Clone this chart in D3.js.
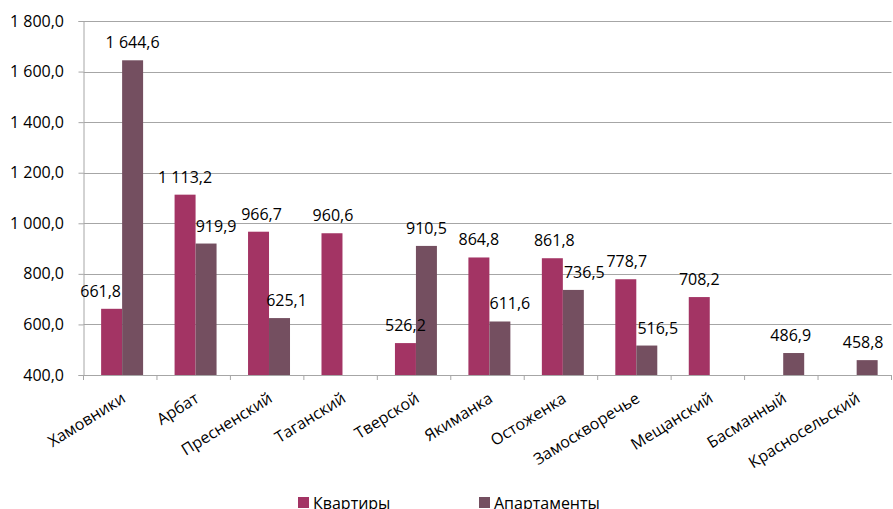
<!DOCTYPE html>
<html>
<head>
<meta charset="utf-8">
<script src="https://cdn.jsdelivr.net/npm/d3@7"></script>
<style>
  body { margin: 0; background: #fff; }
  svg text { font-family: "Open Sans", sans-serif; fill: #000; }
</style>
</head>
<body>
<svg id="chart" width="893" height="509"></svg>
<script>
const districts = ["Хамовники", "Арбат", "Пресненский", "Таганский", "Тверской", "Якиманка",
  "Остоженка", "Замоскворечье", "Мещанский", "Басманный", "Красносельский"];
const flats = [661.8, 1113.2, 966.7, 960.6, 526.2, 864.8, 861.8, 778.7, 708.2, null, null];
const apartments = [1644.6, 919.9, 625.1, null, 910.5, 611.6, 736.5, 516.5, null, 486.9, 458.8];
const seriesNames = ["Квартиры", "Апартаменты"];
const yTicks = [400, 600, 800, 1000, 1200, 1400, 1600, 1800];

// small horizontal nudges of value labels so they don't collide (as in the original)
const flatsLabelNudge = [-11, 0, 3, 1, 0, 0, 2, 1, 0, 0, 0];
const apartLabelNudge = [0, 10, 7, 0, 0, 10, 11, 11, 0, -3, -4];

const colors = ["#a33464", "#744f60"];
const plotLeft = 83.5, plotRight = 891.5, plotTop = 21, plotBottom = 375;
const FONT = 16;

const ru = d3.formatLocale({decimal: ",", thousands: " ", grouping: [3], currency: ["", ""]});
const fmt = ru.format(",.1f");

const svg = d3.select("#chart");

const x = d3.scaleBand().domain(districts).range([plotLeft, plotRight]);
const x1 = d3.scaleBand().domain(seriesNames).range([0, x.bandwidth()])
  .paddingOuter(0.75).align(0.56);
const y = d3.scaleLinear().domain([400, 1800]).range([plotBottom, plotTop]);

// grid
svg.append("g").selectAll("line").data(yTicks).join("line")
  .attr("x1", plotLeft).attr("x2", plotRight)
  .attr("y1", d => Math.round(y(d)) + 0.5).attr("y2", d => Math.round(y(d)) + 0.5)
  .attr("stroke", "#a6a6a6").attr("stroke-width", 1);

// y axis
const yAxis = svg.append("g").attr("transform", `translate(${plotLeft},0)`)
  .call(d3.axisLeft(y).tickValues(yTicks).tickFormat(fmt).tickSize(5).tickPadding(14.5));
yAxis.select(".domain").attr("stroke", "#a6a6a6");
yAxis.selectAll(".tick line").attr("stroke", "#a6a6a6");
yAxis.selectAll("text").attr("font-size", FONT).attr("font-family", "Open Sans");

// x axis
const xAxis = svg.append("g").attr("transform", `translate(0,${plotBottom})`);
xAxis.append("line").attr("x1", plotLeft).attr("x2", plotRight).attr("y1", 0.5).attr("y2", 0.5)
  .attr("stroke", "#a6a6a6");
const bounds = districts.map(d => x(d)).concat([plotRight]);
xAxis.selectAll("line.tk").data(bounds).join("line").attr("class", "tk")
  .attr("x1", d => d).attr("x2", d => d).attr("y1", 0).attr("y2", 5)
  .attr("stroke", "#a6a6a6");
xAxis.selectAll("text").data(districts).join("text")
  .attr("transform", d => `translate(${x(d) + x.bandwidth() / 2},16) rotate(-32)`)
  .attr("text-anchor", "end")
  .attr("dy", "0.75em")
  .attr("font-size", FONT)
  .text(d => d);

// bars
const series = [flats, apartments];
const nudges = [flatsLabelNudge, apartLabelNudge];
const points = series.map((vals, s) =>
  districts.map((d, i) => ({d, v: vals[i], s, nudge: nudges[s][i]})).filter(p => p.v != null));

points.forEach((pts, s) => {
  svg.append("g").selectAll("rect").data(pts).join("rect")
    .attr("x", p => x(p.d) + x1(seriesNames[s]))
    .attr("width", x1.bandwidth())
    .attr("y", p => y(p.v))
    .attr("height", p => plotBottom - y(p.v))
    .attr("fill", colors[s]);
});

// value labels, drawn over all bars
points.forEach((pts, s) => {
  svg.append("g").selectAll("text").data(pts).join("text")
    .attr("x", p => x(p.d) + x1(seriesNames[s]) + x1.bandwidth() / 2 + p.nudge)
    .attr("y", p => y(p.v) - 12)
    .attr("text-anchor", "middle")
    .attr("font-size", FONT)
    .text(p => fmt(p.v));
});

// legend (cut by the bottom edge, as in the original)
const legendX = [298, 479];
seriesNames.forEach((n, i) => {
  svg.append("rect").attr("x", legendX[i]).attr("y", 497).attr("width", 11).attr("height", 11)
    .attr("fill", colors[i]);
  svg.append("text").attr("x", legendX[i] + 15).attr("y", 509).attr("font-size", FONT).text(n);
});
</script>
</body>
</html>
